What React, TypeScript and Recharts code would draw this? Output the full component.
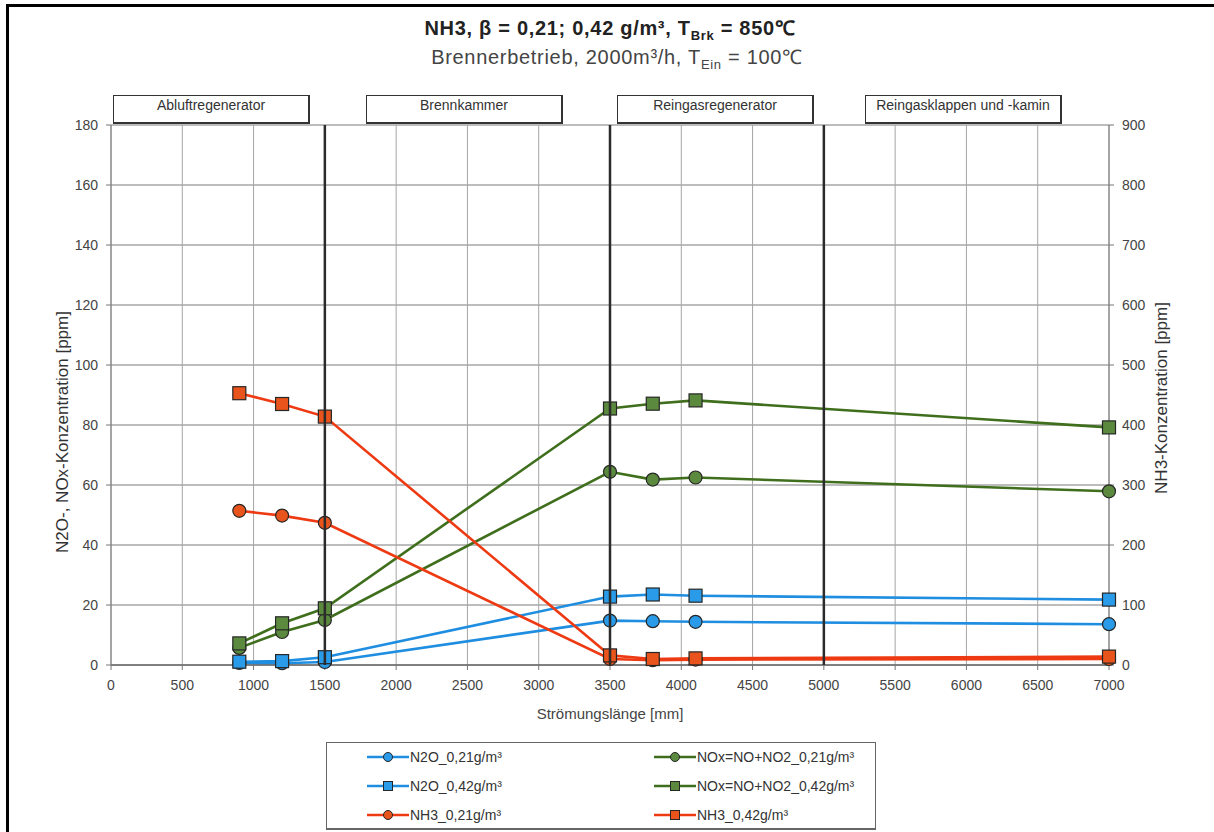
import React from "react";
import {
  LineChart,
  Line,
  XAxis,
  YAxis,
  CartesianGrid,
  ReferenceLine,
} from "recharts";

// ---------- data ----------
const positions = [900, 1200, 1500, 3500, 3800, 4100, 7000];
const n2o021 = [0.7, 0.6, 1.0, 14.8, 14.6, 14.4, 13.6];
const n2o042 = [1.1, 1.3, 2.6, 22.8, 23.5, 23.1, 21.8];
const nox021 = [5.7, 11.0, 15.0, 64.4, 61.8, 62.5, 57.9];
const nox042 = [7.2, 13.9, 18.9, 85.5, 87.1, 88.2, 79.2];
const nh3021 = [257, 249, 237, 10, 8, 9, 10];
const nh3042 = [453, 435, 414, 16, 10, 11, 14];

const xTicks = [0, 500, 1000, 1500, 2000, 2500, 3000, 3500, 4000, 4500, 5000, 5500, 6000, 6500, 7000];
const leftTicks = [0, 20, 40, 60, 80, 100, 120, 140, 160, 180];
const rightTicks = [0, 100, 200, 300, 400, 500, 600, 700, 800, 900];
const sectionBounds = [1500, 3500, 5000];
const sectionNames = ["Abluftregenerator", "Brennkammer", "Reingasregenerator", "Reingasklappen und -kamin"];

const toRows = (vals: number[]) => positions.map((x, i) => ({ x, v: vals[i] }));

const BLUE = "#1f8ee0";
const BLUE_FILL = "#2a9be8";
const GREEN = "#3f6e1c";
const GREEN_FILL = "#5b8a3e";
const RED = "#ee3a12";
const RED_FILL = "#e8541c";

type SeriesDef = {
  name: string;
  vals: number[];
  axis: "left" | "right";
  color: string;
  fill: string;
  shape: "circle" | "square";
};

const series: SeriesDef[] = [
  { name: "NOx=NO+NO2_0,21g/m³", vals: nox021, axis: "left", color: GREEN, fill: GREEN_FILL, shape: "circle" },
  { name: "NOx=NO+NO2_0,42g/m³", vals: nox042, axis: "left", color: GREEN, fill: GREEN_FILL, shape: "square" },
  { name: "N2O_0,21g/m³", vals: n2o021, axis: "left", color: BLUE, fill: BLUE_FILL, shape: "circle" },
  { name: "N2O_0,42g/m³", vals: n2o042, axis: "left", color: BLUE, fill: BLUE_FILL, shape: "square" },
  { name: "NH3_0,21g/m³", vals: nh3021, axis: "right", color: RED, fill: RED_FILL, shape: "circle" },
  { name: "NH3_0,42g/m³", vals: nh3042, axis: "right", color: RED, fill: RED_FILL, shape: "square" },
];

const legendOrder = [
  "N2O_0,21g/m³",
  "NOx=NO+NO2_0,21g/m³",
  "N2O_0,42g/m³",
  "NOx=NO+NO2_0,42g/m³",
  "NH3_0,21g/m³",
  "NH3_0,42g/m³",
];

const FONT = "'Liberation Sans', Arial, Helvetica, sans-serif";

const makeDot = (shape: "circle" | "square", fill: string) => (props: any) => {
  const { cx, cy, index } = props;
  if (cx == null || cy == null) return <g key={`d${index}`} />;
  if (shape === "circle") {
    return <circle key={`d${index}`} cx={cx} cy={cy} r={6.5} fill={fill} stroke="#262626" strokeWidth={1.2} />;
  }
  return <rect key={`d${index}`} x={cx - 6.5} y={cy - 6.5} width={13} height={13} fill={fill} stroke="#262626" strokeWidth={1.2} />;
};

const LegendIcon = ({ s }: { s: SeriesDef }) => (
  <svg width={42} height={14} style={{ display: "block" }}>
    <line x1={0} y1={7} x2={42} y2={7} stroke={s.color} strokeWidth={2.5} />
    {s.shape === "circle" ? (
      <circle cx={21} cy={7} r={4.5} fill={s.fill} stroke="#262626" strokeWidth={1} />
    ) : (
      <rect x={16.5} y={2.5} width={9} height={9} fill={s.fill} stroke="#262626" strokeWidth={1} />
    )}
  </svg>
);

const VLabel = ({ text, cx, cy }: any) => (
  <text
    x={cx}
    y={cy}
    transform={`rotate(-90, ${cx}, ${cy})`}
    textAnchor="middle"
    dominantBaseline="central"
    fill="#333"
    fontSize={17}
    fontFamily={FONT}
  >
    {text}
  </text>
);

const boxLefts = [113, 366, 617, 865];

export default function App() {
  return (
    <div
      style={{
        position: "absolute",
        left: 0,
        top: 0,
        width: 1214,
        height: 832,
        overflow: "hidden",
        background: "#fff",
        fontFamily: FONT,
      }}
    >
      {/* page frame */}
      <div
        style={{
          position: "absolute",
          left: 6,
          top: 4,
          width: 1400,
          height: 1000,
          borderLeft: "3px solid #000",
          borderTop: "3px solid #000",
        }}
      />
      {/* title */}
      <div
        style={{
          position: "absolute",
          left: 0,
          width: 1220,
          top: 14,
          textAlign: "center",
          fontWeight: "bold",
          fontSize: 20,
          letterSpacing: 0.7,
          color: "#222",
        }}
      >
        NH3, β = 0,21; 0,42 g/m³, T<sub style={{ fontSize: 13 }}>Brk</sub> = 850℃
      </div>
      <div
        style={{
          position: "absolute",
          left: 0,
          width: 1234,
          top: 43,
          textAlign: "center",
          fontSize: 20,
          letterSpacing: 0.7,
          color: "#444",
        }}
      >
        Brennerbetrieb, 2000m³/h, T<sub style={{ fontSize: 13 }}>Ein</sub> = 100℃
      </div>

      <div style={{ position: "absolute", left: 0, top: 0 }}>
        <LineChart
          width={1214}
          height={740}
          margin={{ top: 125, right: 3, bottom: 15, left: 25 }}
          style={{ fontFamily: FONT }}
        >
          <CartesianGrid yAxisId="left" vertical={false} stroke="#7a7a7a" strokeWidth={1} />
          <CartesianGrid yAxisId="left" horizontal={false} stroke="#a5a5a5" strokeWidth={1} />
          <XAxis
            dataKey="x"
            type="number"
            domain={[0, 7000]}
            ticks={xTicks}
            allowDuplicatedCategory={false}
            height={60}
            tickSize={5}
            tickMargin={10}
            axisLine={{ stroke: "#444" }}
            tickLine={{ stroke: "#777" }}
            tick={{ fill: "#444", fontSize: 14 }}
            label={{ value: "Strömungslänge [mm]", position: "insideBottom", offset: 6, fill: "#444", fontSize: 15 }}
          />
          <YAxis
            yAxisId="left"
            domain={[0, 180]}
            ticks={leftTicks}
            width={86}
            tickSize={5}
            tickMargin={8}
            axisLine={{ stroke: "#777" }}
            tickLine={{ stroke: "#777" }}
            tick={{ fill: "#444", fontSize: 14 }}
            label={{
              value: "N2O-, NOx-Konzentration [ppm]",
              content: () => <VLabel text="N2O-, NOx-Konzentration [ppm]" cx={62} cy={432} />,
            }}
          />
          <YAxis
            yAxisId="right"
            orientation="right"
            domain={[0, 900]}
            ticks={rightTicks}
            width={102}
            tickSize={5}
            tickMargin={8}
            axisLine={{ stroke: "#777" }}
            tickLine={{ stroke: "#777" }}
            tick={{ fill: "#444", fontSize: 14 }}
            label={{
              value: "NH3-Konzentration [ppm]",
              content: () => <VLabel text="NH3-Konzentration [ppm]" cx={1161} cy={398} />,
            }}
          />
          {series.map((s) => (
            <Line
              key={s.name}
              name={s.name}
              data={toRows(s.vals)}
              dataKey="v"
              yAxisId={s.axis}
              type="linear"
              stroke={s.color}
              strokeWidth={2.6}
              dot={makeDot(s.shape, s.fill)}
              activeDot={false}
              isAnimationActive={false}
            />
          ))}
          {sectionBounds.map((b) => (
            <ReferenceLine key={b} x={b} yAxisId="left" stroke="#2b2b2b" strokeWidth={2.5} zIndex={900} />
          ))}
        </LineChart>
      </div>

      {/* section boxes */}
      {sectionNames.map((n, i) => (
        <div
          key={n}
          style={{
            position: "absolute",
            left: boxLefts[i],
            top: 95,
            width: 194,
            height: 26,
            border: "1px solid #333",
            borderBottomWidth: 2,
            borderRightWidth: 2,
            background: "#fff",
            fontSize: 14,
            color: "#333",
            textAlign: "center",
            lineHeight: "18px",
            boxSizing: "content-box",
          }}
        >
          {n}
        </div>
      ))}

      {/* legend */}
      <div
        style={{
          position: "absolute",
          left: 326,
          top: 742,
          width: 548,
          height: 85,
          border: "1px solid #666",
          borderBottomWidth: 2,
          background: "#fff",
        }}
      >
        {legendOrder.map((nm, i) => {
          const s = series.find((q) => q.name === nm)!;
          const col = i % 2;
          const row = Math.floor(i / 2);
          return (
            <div
              key={nm}
              style={{
                position: "absolute",
                left: col === 0 ? 40 : 327,
                top: 6 + row * 29,
                display: "flex",
                alignItems: "center",
                fontSize: 14,
                color: "#333",
                whiteSpace: "nowrap",
              }}
            >
              <LegendIcon s={s} />
              <span style={{ marginLeft: 1 }}>{nm}</span>
            </div>
          );
        })}
      </div>
    </div>
  );
}
